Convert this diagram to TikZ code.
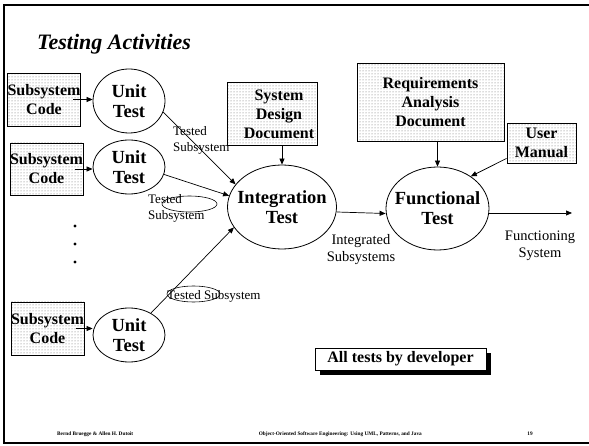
\documentclass[tikz,border=0pt]{standalone}
\usepackage{fontspec}
\setmainfont{Liberation Serif}
\usetikzlibrary{arrows.meta,patterns,shadows,shapes.geometric}
\begin{document}
\begin{tikzpicture}[x=1pt,y=-1pt,
  docbox/.style={draw, line width=0.9pt, pattern=dots, pattern color=black!60, inner sep=0pt,
    font=\fontsize{16}{19}\selectfont\bfseries, align=center},
  boxtxt/.style={font=\fontsize{16}{19}\selectfont\bfseries, align=center, inner sep=0pt},
  act/.style={draw, ellipse, line width=0.8pt, inner sep=0pt},
  acttxt/.style={font=\fontsize{18.5}{20}\selectfont\bfseries, align=center, inner sep=0pt},
  lbl/.style={font=\fontsize{13}{16}\selectfont, align=left, inner sep=0pt},
  lblc/.style={font=\fontsize{14.5}{17}\selectfont, align=center, inner sep=0pt},
  tagell/.style={draw, ellipse, line width=0.6pt, inner sep=0pt},
  flow/.style={-{Triangle[length=6pt,width=5pt]}, line width=0.7pt},
  foot/.style={font=\fontsize{5.3}{6}\selectfont\bfseries, inner sep=0pt},
]
\useasboundingbox (0,0) rectangle (589,446);
\draw[line width=2pt] (4,5) rectangle (640,443);

% title
\node[anchor=base west, font=\fontsize{22}{26}\selectfont\bfseries\itshape, inner sep=0pt] (title) at (37,50) {Testing Activities};

% subsystem code boxes
\node[docbox, minimum width=72, minimum height=53] (b1) at (44,99.5) {Subsystem\\Code};
\node[docbox, minimum width=73, minimum height=52] (b2) at (46.5,169) {Subsystem\\Code};
\node[docbox, minimum width=71, minimum height=53] (b3) at (47.5,328.5) {Subsystem\\Code};

% unit tests
\node[act, minimum width=72, minimum height=64, label={[acttxt]center:{Unit\\Test}}] (u1) at (129,101) {};
\node[act, minimum width=72, minimum height=54, label={[acttxt]center:{Unit\\Test}}] (u2) at (129,167) {};
\node[act, minimum width=72, minimum height=54, label={[acttxt]center:{Unit\\Test}}] (u3) at (129,335) {};

% dots
\fill (75,226) circle[radius=1.6pt];
\fill (75,244) circle[radius=1.6pt];
\fill (75,262) circle[radius=1.6pt];

% documents
\node[docbox, minimum width=90, minimum height=63] (sd) at (272,113.5) {};
\node[boxtxt] (sdt) at (279,114) {System\\Design\\Document};
\node[docbox, minimum width=147, minimum height=78] (rq) at (430.5,102) {Requirements\\Analysis\\Document};
\node[docbox, minimum width=69, minimum height=40] (um) at (541.5,143) {User\\Manual};

% integration and functional tests
\node[act, minimum width=109, minimum height=84, label={[acttxt]center:{Integration\\Test}}] (it) at (282,207) {};
\node[act, minimum width=103, minimum height=83, label={[acttxt]center:{Functional\\Test}}] (fn) at (437.5,208.5) {};
\coordinate (out) at (572,213);

% small ellipses around labels
\node[tagell, minimum width=55, minimum height=16] (o2) at (189.5,204) {};
\node[tagell, minimum width=53, minimum height=16] (o3) at (193.5,294) {};

% connectors
\draw[flow] ([xshift=-8pt]b1.east) -- (b1.east -| u1.west);
\draw[flow] ([xshift=-8pt]b2.east) -- (b2.east -| u2.west);
\draw[flow] ([xshift=-8pt]b3.east) -- (b3.east -| u3.west);
\draw[flow] (u1.-18) -- (it.154);
\draw[flow] (u2.-12) -- (it.168);
\draw[flow] (u3.45) -- (it.203);
\draw[flow] (sd.south -| it.north) -- (it.north);
\draw[flow] ([yshift=-5pt]it.east) -- ([yshift=-5pt]fn.west);
\draw[flow] (rq.south -| fn.north) -- (fn.north);
\draw[flow] ([yshift=5pt]um.south west) -- (fn.44);
\draw[flow] ([yshift=-4.5pt]fn.east) -- (out);

% labels
\node[lbl, anchor=west] (l1) at (173,140) {Tested\\Subsystem};
\node[lbl, anchor=west] (l2) at (148,208) {Tested\\Subsystem};
\node[lbl, anchor=west] (l3) at (167,296) {Tested Subsystem};
\node[lblc] (l4) at (361,250) {Integrated\\Subsystems};
\node[lblc] (l5) at (540,246) {Functioning\\System};

% note
\node[draw, fill=white, line width=0.8pt, minimum width=171, minimum height=22, inner sep=0pt,
  font=\fontsize{16}{19}\selectfont\bfseries,
  drop shadow={shadow xshift=5pt, shadow yshift=-5pt, fill=black, opacity=1}] (dev) at (400.5,359) {All tests by developer};

% footer
\node[foot, anchor=base west] (f1) at (57,435) {Bernd Bruegge \& Allen H. Dutoit};
\node[foot, anchor=base east] (f2) at (422,435) {Object-Oriented Software Engineering: Using UML, Patterns, and Java};
\node[foot, anchor=base] (f3) at (530,435) {19};
\end{tikzpicture}
\end{document}
